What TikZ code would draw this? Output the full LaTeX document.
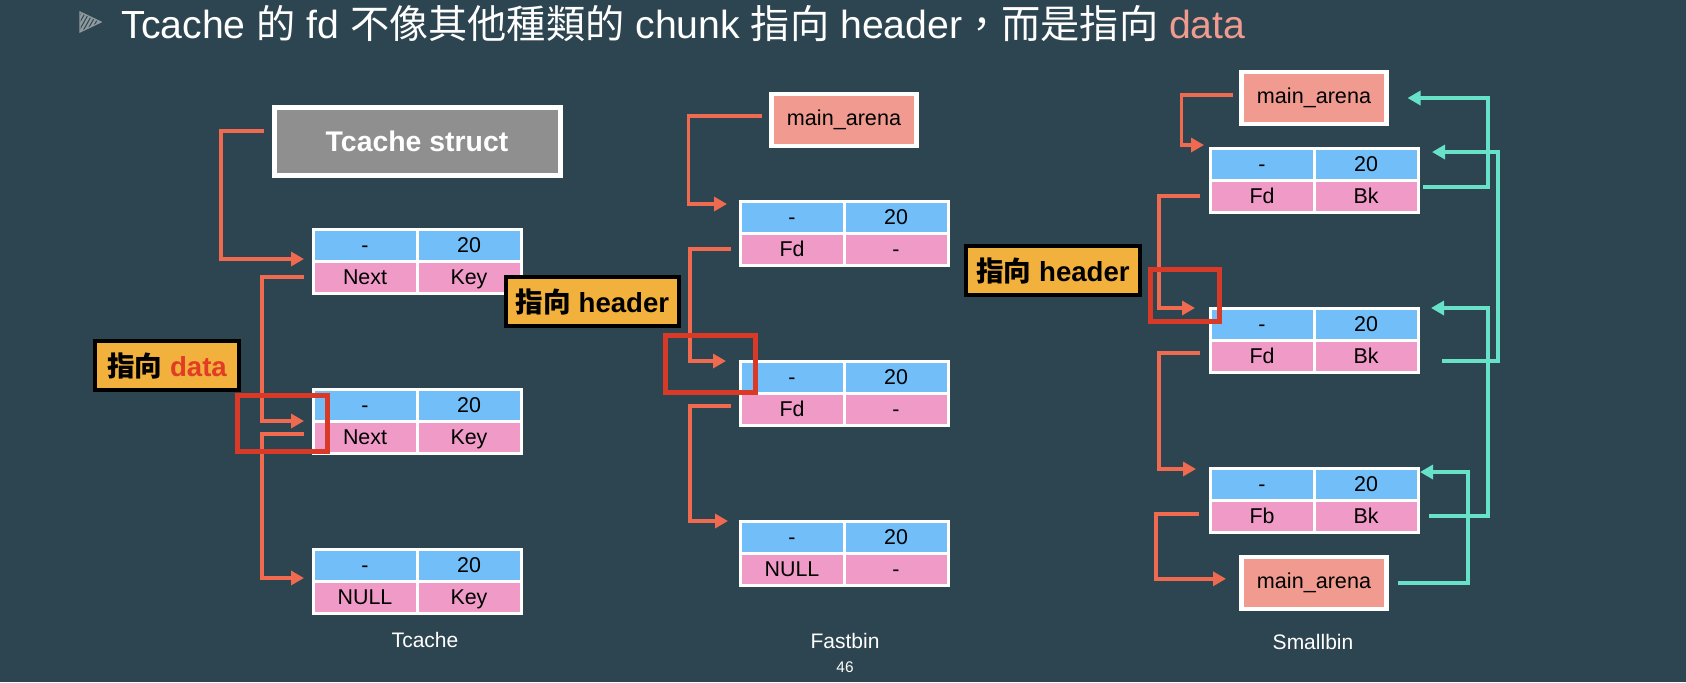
\documentclass[tikz,border=0pt]{standalone}
\usepackage{fontspec}
\setmainfont{Liberation Sans}
\newfontfamily\cjk{Noto Sans CJK TC}
\usetikzlibrary{positioning}
\usetikzlibrary{arrows.meta}

\definecolor{slideBg}{HTML}{2D4550}
\definecolor{cellBlue}{HTML}{72BEF8}
\definecolor{cellPink}{HTML}{F09AC8}
\definecolor{arenaSalmon}{HTML}{F19B90}
\definecolor{structGray}{HTML}{8F8F8F}
\definecolor{tagOrange}{HTML}{F2B13C}
\definecolor{tagRed}{HTML}{E03C26}
\definecolor{linkOrange}{HTML}{EF6A4E}
\definecolor{linkCyan}{HTML}{67E2C9}
\definecolor{hiRed}{HTML}{D93A28}
\definecolor{bulletGray}{HTML}{8E999E}

\begin{document}
\begin{tikzpicture}
    [x=0.5pt, y=-0.5pt,
     cell/.style={draw=white, line width=1.5pt, minimum width=52pt, minimum height=16pt, inner sep=0pt, outer sep=0pt, text height=7.7pt, text depth=0pt, font=\fontsize{10.7}{12}\selectfont},
     cellHead/.style={cell, fill=cellBlue},
     cellData/.style={cell, fill=cellPink},
     arena/.style={draw=white, line width=2.25pt, fill=arenaSalmon, minimum width=72.5pt, minimum height=26pt, inner sep=0pt, outer sep=0pt, font=\fontsize{10.8}{12}\selectfont},
     structBox/.style={draw=white, line width=2.5pt, fill=structGray, minimum width=143pt, minimum height=34pt, inner sep=0pt, outer sep=0pt, text=white, font=\bfseries\fontsize{14.2}{16}\selectfont},
     tag/.style={draw=black, line width=2pt, fill=tagOrange, minimum height=24.5pt, inner sep=0pt, font=\bfseries\fontsize{13.8}{15}\selectfont},
     hilite/.style={draw=hiRed, line width=2.5pt, inner sep=0pt},
     caption/.style={text=white, inner sep=0pt, font=\fontsize{10.5}{12}\selectfont},
     link/.style={draw=linkOrange, line width=1.75pt, -{Triangle[length=6.5pt, width=7pt]}},
     back/.style={draw=linkCyan, line width=1.7pt, -{Triangle[length=6.5pt, width=7pt]}},
    ]

    \fill[slideBg] (0,0) rectangle (1686,682);
    \useasboundingbox (0,0) rectangle (1686,682);

    \begin{scope}
        \clip (80,12) -- (80,32) -- (101,22) -- cycle;
        \foreach \k in {0,...,7}
            \draw[bulletGray, line width=1.1pt] (66+4*\k,36) -- ++(16,-28);
    \end{scope}
    \draw[bulletGray, line width=0.6pt] (80,12) -- (80,32) -- (101,22) -- cycle;
    \node[anchor=base west, inner sep=0pt, text=white, font=\fontsize{19.6}{23}\selectfont] (title) at (121,38)
        {Tcache {\cjk 的} fd {\cjk 不像其他種類的} chunk {\cjk 指向} header{\cjk ，而是指向} \textcolor{arenaSalmon}{data}};

    \node[cellHead, anchor=north west] (tc1a) at (313,229) {-};
    \node[cellHead] (tc1b) [right=0pt of tc1a] {20};
    \node[cellData] (tc1c) [below=0pt of tc1a] {Next};
    \node[cellData] (tc1d) [right=0pt of tc1c] {Key};
    \node[cellHead] (tc2a) [below=48pt of tc1c] {-};
    \node[cellHead] (tc2b) [right=0pt of tc2a] {20};
    \node[cellData] (tc2c) [below=0pt of tc2a] {Next};
    \node[cellData] (tc2d) [right=0pt of tc2c] {Key};
    \node[cellHead] (tc3a) [below=48pt of tc2c] {-};
    \node[cellHead] (tc3b) [right=0pt of tc3a] {20};
    \node[cellData] (tc3c) [below=0pt of tc3a] {NULL};
    \node[cellData] (tc3d) [right=0pt of tc3c] {Key};
    \node[structBox] (tstruct) [above=27pt of tc1a.north east] {Tcache struct};

    \node[cellHead, anchor=north west] (fb1a) at (740,201) {-};
    \node[cellHead] (fb1b) [right=0pt of fb1a] {20};
    \node[cellData] (fb1c) [below=0pt of fb1a] {Fd};
    \node[cellData] (fb1d) [right=0pt of fb1c] {-};
    \node[cellHead] (fb2a) [below=48pt of fb1c] {-};
    \node[cellHead] (fb2b) [right=0pt of fb2a] {20};
    \node[cellData] (fb2c) [below=0pt of fb2a] {Fd};
    \node[cellData] (fb2d) [right=0pt of fb2c] {-};
    \node[cellHead] (fb3a) [below=48pt of fb2c] {-};
    \node[cellHead] (fb3b) [right=0pt of fb3a] {20};
    \node[cellData] (fb3c) [below=0pt of fb3a] {NULL};
    \node[cellData] (fb3d) [right=0pt of fb3c] {-};
    \node[arena] (fbArena) [above=27.4pt of fb1a.north east] {main\_arena};

    \node[cellHead, anchor=north west] (sb1a) at (1210,148) {-};
    \node[cellHead] (sb1b) [right=0pt of sb1a] {20};
    \node[cellData] (sb1c) [below=0pt of sb1a] {Fd};
    \node[cellData] (sb1d) [right=0pt of sb1c] {Bk};
    \node[cellHead] (sb2a) [below=48pt of sb1c] {-};
    \node[cellHead] (sb2b) [right=0pt of sb2a] {20};
    \node[cellData] (sb2c) [below=0pt of sb2a] {Fd};
    \node[cellData] (sb2d) [right=0pt of sb2c] {Bk};
    \node[cellHead] (sb3a) [below=48pt of sb2c] {-};
    \node[cellHead] (sb3b) [right=0pt of sb3a] {20};
    \node[cellData] (sb3c) [below=0pt of sb3a] {Fb};
    \node[cellData] (sb3d) [right=0pt of sb3c] {Bk};
    \node[arena] (sbArenaT) [above=12pt of sb1a.north east] {main\_arena};
    \node[arena] (sbArenaB) [below=12.4pt of sb3c.south east] {main\_arena};

    \draw[link, shorten <=5pt, shorten >=4.5pt] ([yshift=5pt]tstruct.west) -- ++(-53,0) |- ([yshift=1pt]tc1c.north west);
    \draw[link, shorten <=4.5pt, shorten >=4.5pt] (tc1c.west) -- ++(-51,0) |- (tc2c.north west);
    \draw[link, shorten <=4.5pt, shorten >=4.5pt] ([yshift=1.5pt]tc2c.west) -- ++(-51,0) |- ([yshift=1.5pt]tc3c.north west);

    \draw[link, shorten <=5pt, shorten >=6.5pt] ([yshift=2pt]fbArena.west) -- ++(-83,0) |- ([yshift=-1.5pt]fb1a.north west);
    \draw[link, shorten <=4.5pt, shorten >=7pt] (fb1c.west) -- ++(-50,0) |- (fb2a.north west);
    \draw[link, shorten <=4.5pt, shorten >=6pt] ([yshift=1.5pt]fb2c.west) -- ++(-50,0) |- (fb3a.north west);

    \draw[link, shorten <=4.5pt, shorten >=3pt] ([yshift=1.5pt]sbArenaT.west) -- ++(-60,0) |- ([yshift=1.5pt]sb1a.north west);
    \draw[link, shorten <=5pt, shorten >=7.5pt] (sb1c.west) -- ++(-51,0) |- (sb2a.north west);
    \draw[link, shorten <=5pt, shorten >=7pt] ([yshift=1.5pt]sb2c.west) -- ++(-51,0) |- ([yshift=-0.5pt]sb3a.north west);
    \draw[link, shorten <=5.5pt, shorten >=7.75pt] ([yshift=1pt]sb3c.west) -- ++(-54,0) |- ([yshift=2pt]sbArenaB.west);

    \draw[back, shorten <=2.5pt, shorten >=10.5pt] ([yshift=4.5pt]sb1d.east) -- ++(70,0) |- (sbArenaT.east);
    \draw[back, shorten <=12pt, shorten >=7pt] ([yshift=-2.5pt]sb2d.east) -- ++(80,0) |- ([yshift=-2pt]sb1b.north east);
    \draw[back, shorten <=5.5pt, shorten >=6.5pt] (sb3d.east) -- ++(70,0) |- (sb2b.north east);
    \draw[back, shorten <=5.75pt, shorten >=1pt] (sbArenaB.east) -- ++(81.5,0) |- ([yshift=-2pt]sb3b.north east);

    \node[tag, minimum width=72pt] (tagData) at (167,365.5) {{\cjk\bfseries 指向} \textcolor{tagRed}{data}};
    \node[tag, minimum width=86.5pt] (tagHeadA) at (592.5,301.5) {{\cjk\bfseries 指向} header};
    \node[tag, minimum width=87pt] (tagHeadB) at (1053,270.5) {{\cjk\bfseries 指向} header};

    \node[hilite, minimum width=45pt, minimum height=28pt] (hiData) at (282.5,423.5) {};
    \node[hilite, minimum width=45pt, minimum height=28.5pt] (hiFast) at (710.5,364) {};
    \node[hilite, minimum width=34.5pt, minimum height=26pt] (hiSmall) at (1185,295.5) {};

    \node[caption] (capTcache) at (425,640) {Tcache};
    \node[caption] (capFastbin) at (845,641) {Fastbin};
    \node[caption] (capSmallbin) at (1313,642) {Smallbin};
    \node[caption, font=\fontsize{7.7}{9}\selectfont] (pageNo) at (845,667) {46};

\end{tikzpicture}
\end{document}
